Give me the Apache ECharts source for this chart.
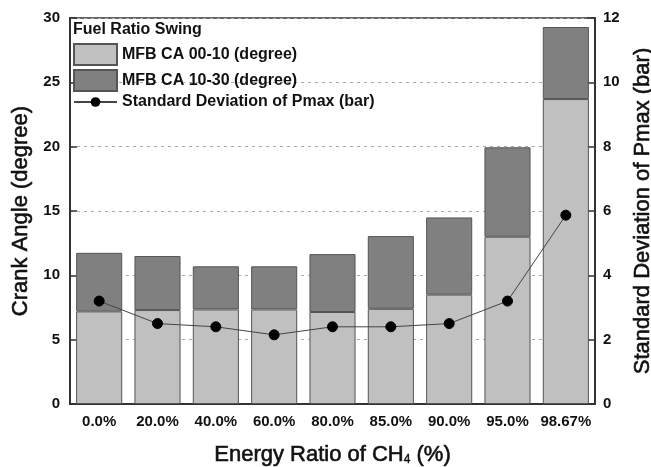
<!DOCTYPE html>
<html>
<head>
<meta charset="utf-8">
<script src="https://cdn.jsdelivr.net/npm/echarts@6/dist/echarts.min.js"></script>
<style>html,body{margin:0;padding:0;background:#fff}#c{width:651px;height:467px}</style>
</head>
<body>
<div id="c"></div>
<script>
var categories = ['0.0%', '20.0%', '40.0%', '60.0%', '80.0%', '85.0%', '90.0%', '95.0%', '98.67%'];
var mfb0010 = [7.2, 7.3, 7.35, 7.35, 7.15, 7.4, 8.5, 13.0, 23.7];
var mfb1030 = [4.55, 4.2, 3.35, 3.35, 4.5, 5.65, 6.0, 6.95, 5.6];
var stdPmax = [3.2, 2.5, 2.4, 2.15, 2.4, 2.4, 2.5, 3.2, 5.87];
var leftTicks = [0, 5, 10, 15, 20, 25, 30];
var rightTicks = [0, 2, 4, 6, 8, 10, 12];

var FONT = 'Liberation Sans, Arial, sans-serif';
var legendText = {fontFamily: FONT, fontWeight: 'bold', fontSize: 16, color: '#111'};
var nameStyle = {fontFamily: FONT, fontSize: 22, fontWeight: 'normal', color: '#111', textBorderColor: '#111', textBorderWidth: 0.6};
var chart = echarts.init(document.getElementById('c'));
chart.setOption({
  animation: false,
  backgroundColor: '#fff',
  title: {
    text: 'Fuel Ratio Swing',
    left: 73, top: 22, padding: 0,
    textStyle: {fontFamily: FONT, fontWeight: 'bold', fontSize: 16, color: '#111'}
  },
  legend: [{
    orient: 'vertical',
    left: 73, top: 43, padding: 0,
    itemWidth: 43, itemHeight: 21, itemGap: 3,
    icon: 'rect',
    textStyle: legendText,
    data: ['MFB CA 00-10 (degree)', 'MFB CA 10-30 (degree)']
  }, {
    orient: 'vertical',
    left: 73, top: 94, padding: 0,
    itemWidth: 43, itemHeight: 12,
    textStyle: legendText,
    data: ['Standard Deviation of Pmax (bar)']
  }],
  grid: {left: 70, right: 56, top: 18, bottom: 63, outerBoundsMode: 'none', containLabel: false,
    show: true, borderColor: '#333', borderWidth: 1.5, backgroundColor: 'transparent'},
  xAxis: {
    type: 'category',
    data: categories,
    name: '{a|Energy Ratio of CH}{s|4}{a| (%)}',
    nameLocation: 'middle',
    nameGap: 40,
    nameTextStyle: {
      rich: {
        a: nameStyle,
        s: {fontFamily: FONT, fontSize: 12, fontWeight: 'normal', color: '#111', textBorderColor: '#111', textBorderWidth: 0.4, verticalAlign: 'bottom', padding: [10, 0, 0, 0]}
      }
    },
    axisLine: {lineStyle: {color: '#333', width: 2}},
    axisTick: {inside: true, alignWithLabel: true, length: 7, lineStyle: {color: '#333', width: 1.5}},
    axisLabel: {fontFamily: FONT, fontWeight: 'bold', fontSize: 15, color: '#111', margin: 10, interval: 0}
  },
  yAxis: [{
    type: 'value',
    min: leftTicks[0], max: leftTicks[leftTicks.length - 1], interval: 5,
    name: 'Crank Angle (degree)',
    nameLocation: 'middle',
    nameGap: 35,
    nameTextStyle: nameStyle,
    axisLine: {show: true, lineStyle: {color: '#333', width: 2}},
    axisTick: {show: true, inside: true, length: 7, lineStyle: {color: '#333', width: 1.5}},
    axisLabel: {fontFamily: FONT, fontWeight: 'bold', fontSize: 15, color: '#111', margin: 10},
    splitLine: {show: true, lineStyle: {color: '#aaa', type: [3, 4], width: 1}}
  }, {
    type: 'value',
    min: rightTicks[0], max: rightTicks[rightTicks.length - 1], interval: 2,
    name: 'Standard Deviation of Pmax (bar)',
    nameLocation: 'middle',
    nameGap: 37,
    nameRotate: 90,
    nameTextStyle: nameStyle,
    axisLine: {show: true, lineStyle: {color: '#333', width: 2}},
    axisTick: {show: true, inside: true, length: 8, lineStyle: {color: '#333', width: 1.5}},
    axisLabel: {fontFamily: FONT, fontWeight: 'bold', fontSize: 15, color: '#111', margin: 8},
    splitLine: {show: false}
  }],
  series: [{
    name: 'MFB CA 00-10 (degree)',
    type: 'bar',
    stack: 'ca',
    data: mfb0010,
    barCategoryGap: '21%',
    itemStyle: {color: '#c0c0c0', borderColor: '#555', borderWidth: 1}
  }, {
    name: 'MFB CA 10-30 (degree)',
    type: 'bar',
    stack: 'ca',
    data: mfb1030,
    itemStyle: {color: '#808080', borderColor: '#555', borderWidth: 1}
  }, {
    name: 'Standard Deviation of Pmax (bar)',
    type: 'line',
    yAxisIndex: 1,
    data: stdPmax,
    symbol: 'circle',
    symbolSize: 10,
    z: 5,
    lineStyle: {color: '#444', width: 1},
    itemStyle: {color: '#000', borderColor: '#000'}
  }]
});
</script>
</body>
</html>
